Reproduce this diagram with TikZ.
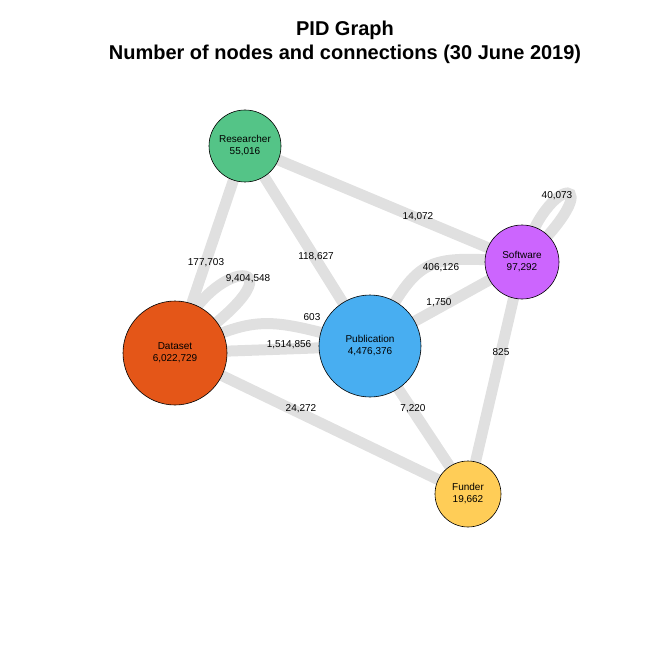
\documentclass[tikz,border=0pt]{standalone}
\usepackage{fontspec}
\setmainfont{Liberation Sans}
\begin{document}
\begin{tikzpicture}[x=1pt,y=-1pt,
  vert/.style={circle,draw=black,line width=0.6pt,align=center,font=\fontsize{10}{12}\selectfont,inner sep=0pt},
  edge/.style={draw=black!12,line width=11pt},
  elab/.style={font=\fontsize{10}{12}\selectfont,fill=white,fill opacity=0,text opacity=1,inner sep=1pt}]
\useasboundingbox (0,0) rectangle (660,660);
\node[font=\bfseries\fontsize{20}{24}\selectfont,align=center] (title) at (345,42) {PID Graph\\Number of nodes and connections (30 June 2019)};
\coordinate (R) at (245,146);
\coordinate (S) at (522,262);
\coordinate (D) at (175,353);
\coordinate (P) at (370,346);
\coordinate (F) at (468,494);
% edges
\draw[edge] (R) -- (D);
\draw[edge] (R) -- (P);
\draw[edge] (R) -- (S);
\draw[edge] (D) -- (P);
\draw[edge] (D) .. controls (260,315) .. (P);
\draw[edge] (P) -- (S);
\draw[edge] (P) .. controls (420,255) .. (S);
\draw[edge] (S) -- (F);
\draw[edge] (D) -- (F);
\draw[edge] (P) -- (F);
\draw[edge] (D) .. controls (200,250) and (330,250) .. (D);
\draw[edge] (S) .. controls (545,170) and (620,170) .. (S);
% nodes
\node[vert,fill={rgb,255:red,84;green,196;blue,135},minimum size=72] (r) at (R) {Researcher\\55,016};
\node[vert,fill={rgb,255:red,204;green,101;blue,254},minimum size=74] (s) at (S) {Software\\97,292};
\node[vert,fill={rgb,255:red,228;green,86;blue,24},minimum size=104] (d) at (D) {Dataset\\6,022,729};
\node[vert,fill={rgb,255:red,72;green,174;blue,241},minimum size=102] (p) at (P) {Publication\\4,476,376};
\node[vert,fill={rgb,255:red,255;green,205;blue,87},minimum size=66] (f) at (F) {Funder\\19,662};
% labels
\node[elab] (l1) at (206,263) {177,703};
\node[elab] (l2) at (248,279) {9,404,548};
\node[elab] (l3) at (316,257) {118,627};
\node[elab] (l4) at (418,217) {14,072};
\node[elab] (l5) at (557,196) {40,073};
\node[elab] (l6) at (441,268) {406,126};
\node[elab] (l7) at (312,317) {603};
\node[elab] (l8) at (289,345) {1,514,856};
\node[elab] (l9) at (439,303) {1,750};
\node[elab] (l10) at (501,352) {825};
\node[elab] (l11) at (301,409) {24,272};
\node[elab] (l12) at (413,409) {7,220};
\end{tikzpicture}
\end{document}
